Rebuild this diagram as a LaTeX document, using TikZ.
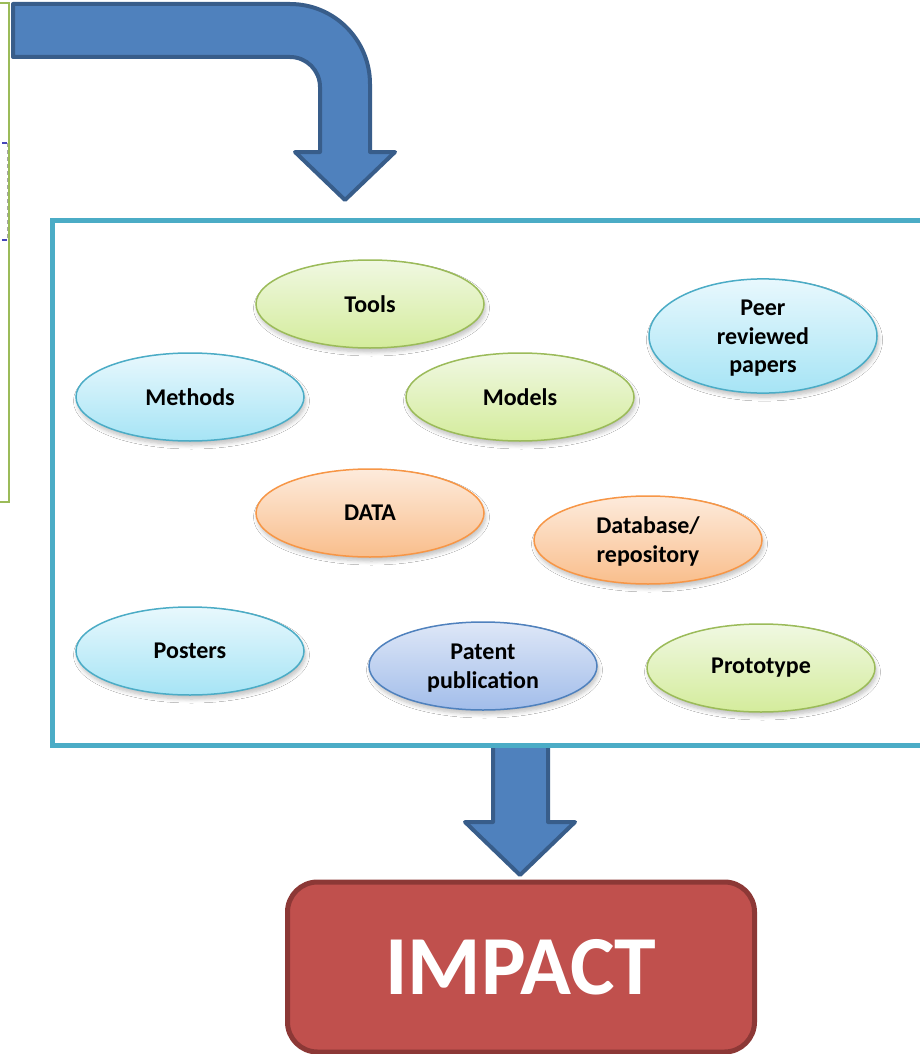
\documentclass[tikz,border=0pt]{standalone}
\usepackage{fontspec}
\setmainfont{Carlito}
\usetikzlibrary{shapes.geometric,shadows.blur}

\definecolor{arrowfill}{HTML}{4F81BD}
\definecolor{arrowline}{HTML}{385D8A}
\definecolor{framecol}{HTML}{4BACC6}
\definecolor{sidecol}{HTML}{9BBB59}
\definecolor{impactfill}{HTML}{C0504D}
\definecolor{impactline}{HTML}{8C3836}
\definecolor{grtop}{HTML}{F0F8E2}
\definecolor{grbot}{HTML}{D4EC9C}
\definecolor{grline}{HTML}{9BBB59}
\definecolor{cytop}{HTML}{E8F8FD}
\definecolor{cybot}{HTML}{A6E4F5}
\definecolor{cyline}{HTML}{4BACC6}
\definecolor{ortop}{HTML}{FDEBDC}
\definecolor{orbot}{HTML}{F9BE8C}
\definecolor{orline}{HTML}{F79646}
\definecolor{bltop}{HTML}{DEE7F7}
\definecolor{blbot}{HTML}{A2BDEA}
\definecolor{blline}{HTML}{4F81BD}

\tikzset{
  oval/.style={ellipse, minimum width=228pt, minimum height=88pt, inner sep=0pt,
    line width=1.5pt, align=center,
    font=\fontsize{24}{28.5}\selectfont\bfseries,
    blur shadow={shadow xshift=1.5pt, shadow yshift=-4pt, shadow blur steps=6,
      shadow blur radius=4pt, shadow opacity=25}},
  greenoval/.style={oval, draw=grline, top color=grtop, bottom color=grbot},
  cyanoval/.style={oval, draw=cyline, top color=cytop, bottom color=cybot},
  orangeoval/.style={oval, draw=orline, top color=ortop, bottom color=orbot},
  blueoval/.style={oval, draw=blline, top color=bltop, bottom color=blbot},
  blockarrow/.style={fill=arrowfill, draw=arrowline, line width=4pt, line join=round},
}

\begin{document}
\begin{tikzpicture}[x=1pt, y=-1pt]
  \useasboundingbox (0,0) rectangle (920,1054);
  \clip (0,0) rectangle (920,1054);

  % edge of the neighbouring panel on the left
  \draw[sidecol, line width=2.5pt] (-5,3) -- (9,3) -- (9,502) -- (-5,502);
  \draw[gray!70, line width=1pt, dash pattern=on 4pt off 3pt] (7,143) -- (7,240);
  \draw[blue!45!gray, line width=1.5pt] (2,143) -- (7,143) (2,240) -- (7,240);

  % bent arrow coming in from the left
  \draw[blockarrow] (13,4) -- (290,4)
    .. controls (334.2,4) and (370,39.8) .. (370,84)
    -- (370,152) -- (395,152) -- (345,200) -- (295,152) -- (320,152) -- (320,87)
    .. controls (320,70.4) and (306.6,57) .. (290,57)
    -- (13,57) -- cycle;

  % arrow leaving the outputs frame
  \draw[blockarrow] (493,735) -- (493,822) -- (465,822) -- (520,875)
    -- (575,822) -- (548,822) -- (548,735) -- cycle;

  % frame holding the outputs
  \draw[framecol, fill=white, line width=5pt] (52.5,220.5) rectangle (935,745);

  % outputs
  \node[greenoval]  (tools)     at (370,304) {Tools};
  \node[cyanoval]   (methods)   at (190,397) {Methods};
  \node[greenoval]  (models)    at (520,397) {Models};
  \node[cyanoval]   (peer)      at (763,336) {\strut Peer\\reviewed\\papers};
  \node[orangeoval] (data)      at (370,513) {DATA};
  \node[orangeoval] (database)  at (648,540) {\strut Database/\\repository};
  \node[cyanoval]   (posters)   at (190,651) {Posters};
  \node[blueoval]   (patent)    at (483,666) {\strut Patent\\publication};
  \node[greenoval]  (prototype) at (761,668) {Prototype};

  % impact box
  \node[draw=impactline, fill=impactfill, line width=5pt, rounded corners=30pt,
    minimum width=467pt, minimum height=170pt, inner sep=0pt,
    text=white, font=\fontsize{84}{90}\selectfont\bfseries]
    (impact) at (521,967) {IMPACT};
\end{tikzpicture}
\end{document}
